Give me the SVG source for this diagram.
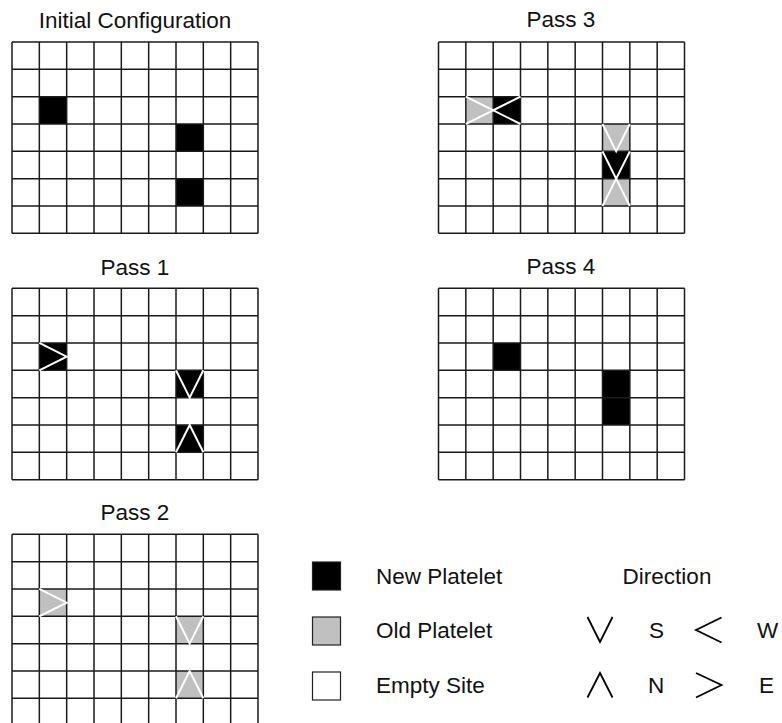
<svg xmlns="http://www.w3.org/2000/svg" xmlns:xlink="http://www.w3.org/1999/xlink" width="782" height="723" viewBox="0 0 782 723">
<style>
  .bg { fill: #ffffff; }
  .grid { fill: none; stroke: #1a1a1a; stroke-width: 1.5; }
  .new { fill: #000000; }
  .old { fill: #c0c0c0; }
  .arrow { fill: none; stroke: #ffffff; stroke-width: 2; stroke-linejoin: miter; }
  .title { font-family: "Liberation Sans", Arial, sans-serif; font-size: 22.5px; fill: #111111; text-anchor: middle; }
  .label { font-family: "Liberation Sans", Arial, sans-serif; font-size: 22.5px; fill: #111111; }
  .sym { fill: none; stroke: #000000; stroke-width: 1.8; }
  .key { stroke: #222222; stroke-width: 1.2; }
</style>
<defs>
  <path id="gridlines" class="grid" d="M0 0V191.33M27.33 0V191.33M54.67 0V191.33M82 0V191.33M109.33 0V191.33M136.67 0V191.33M164 0V191.33M191.33 0V191.33M218.67 0V191.33M246 0V191.33M0 0H246M0 27.33H246M0 54.67H246M0 82H246M0 109.33H246M0 136.67H246M0 164H246M0 191.33H246"/>
</defs>
<rect class="bg" x="0" y="0" width="782" height="723"/>

<g id="initial">
  <text class="title" x="135" y="27.5">Initial Configuration</text>
  <g transform="translate(12,42)">
    <rect class="new" x="27.33" y="54.67" width="27.33" height="27.33"/>
    <rect class="new" x="164" y="82" width="27.33" height="27.33"/>
    <rect class="new" x="164" y="136.67" width="27.33" height="27.33"/>
    <use xlink:href="#gridlines" href="#gridlines"/>
  </g>
</g>

<g id="pass1">
  <text class="title" x="135" y="274.5">Pass 1</text>
  <g transform="translate(12,288.3)">
    <rect class="new" x="27.33" y="54.67" width="27.33" height="27.33"/>
    <rect class="new" x="164" y="82" width="27.33" height="27.33"/>
    <rect class="new" x="164" y="136.67" width="27.33" height="27.33"/>
    <use xlink:href="#gridlines" href="#gridlines"/>
    <path class="arrow" d="M27.33 54.67L54.67 68.33L27.33 82"/>
    <path class="arrow" d="M164 82L177.67 109.33L191.33 82"/>
    <path class="arrow" d="M164 164L177.67 136.67L191.33 164"/>
  </g>
</g>

<g id="pass2">
  <text class="title" x="135" y="520">Pass 2</text>
  <g transform="translate(12,534.3)">
    <rect class="old" x="27.33" y="54.67" width="27.33" height="27.33"/>
    <rect class="old" x="164" y="82" width="27.33" height="27.33"/>
    <rect class="old" x="164" y="136.67" width="27.33" height="27.33"/>
    <use xlink:href="#gridlines" href="#gridlines"/>
    <path class="arrow" d="M27.33 54.67L54.67 68.33L27.33 82"/>
    <path class="arrow" d="M164 82L177.67 109.33L191.33 82"/>
    <path class="arrow" d="M164 164L177.67 136.67L191.33 164"/>
  </g>
</g>

<g id="pass3">
  <text class="title" x="561" y="27">Pass 3</text>
  <g transform="translate(438.5,42)">
    <rect class="old" x="27.33" y="54.67" width="27.33" height="27.33"/>
    <rect class="new" x="54.67" y="54.67" width="27.33" height="27.33"/>
    <rect class="old" x="164" y="82" width="27.33" height="27.33"/>
    <rect class="new" x="164" y="109.33" width="27.33" height="27.33"/>
    <rect class="old" x="164" y="136.67" width="27.33" height="27.33"/>
    <use xlink:href="#gridlines" href="#gridlines"/>
    <path class="arrow" d="M27.33 54.67L54.67 68.33L27.33 82"/>
    <path class="arrow" d="M82 54.67L54.67 68.33L82 82"/>
    <path class="arrow" d="M164 82L177.67 109.33L191.33 82"/>
    <path class="arrow" d="M164 109.33L177.67 136.67L191.33 109.33"/>
    <path class="arrow" d="M164 164L177.67 136.67L191.33 164"/>
  </g>
</g>

<g id="pass4">
  <text class="title" x="561" y="274">Pass 4</text>
  <g transform="translate(438.5,288.3)">
    <rect class="new" x="54.67" y="54.67" width="27.33" height="27.33"/>
    <rect class="new" x="164" y="82" width="27.33" height="54.67"/>
    <use xlink:href="#gridlines" href="#gridlines"/>
  </g>
</g>

<g id="legend">
  <rect class="key new" x="312.5" y="562" width="28" height="28"/>
  <rect class="key old" x="312.5" y="617" width="28" height="28"/>
  <rect class="key bg" x="312.5" y="672" width="28" height="28"/>
  <text class="label" x="376" y="583.5">New Platelet</text>
  <text class="label" x="376" y="638">Old Platelet</text>
  <text class="label" x="376" y="693">Empty Site</text>
</g>

<g id="direction">
  <text class="title" x="667" y="583.5">Direction</text>
  <path class="sym" d="M587.5 617L600 642L612.5 617"/>
  <text class="label" x="649" y="638">S</text>
  <path class="sym" d="M721.5 617.5L696 630L721.5 642.5"/>
  <text class="label" x="757" y="638">W</text>
  <path class="sym" d="M587.5 697.5L600 673L612.5 697.5"/>
  <text class="label" x="648" y="693">N</text>
  <path class="sym" d="M696 673L721.5 685L696 697.5"/>
  <text class="label" x="759" y="693">E</text>
</g>
</svg>
